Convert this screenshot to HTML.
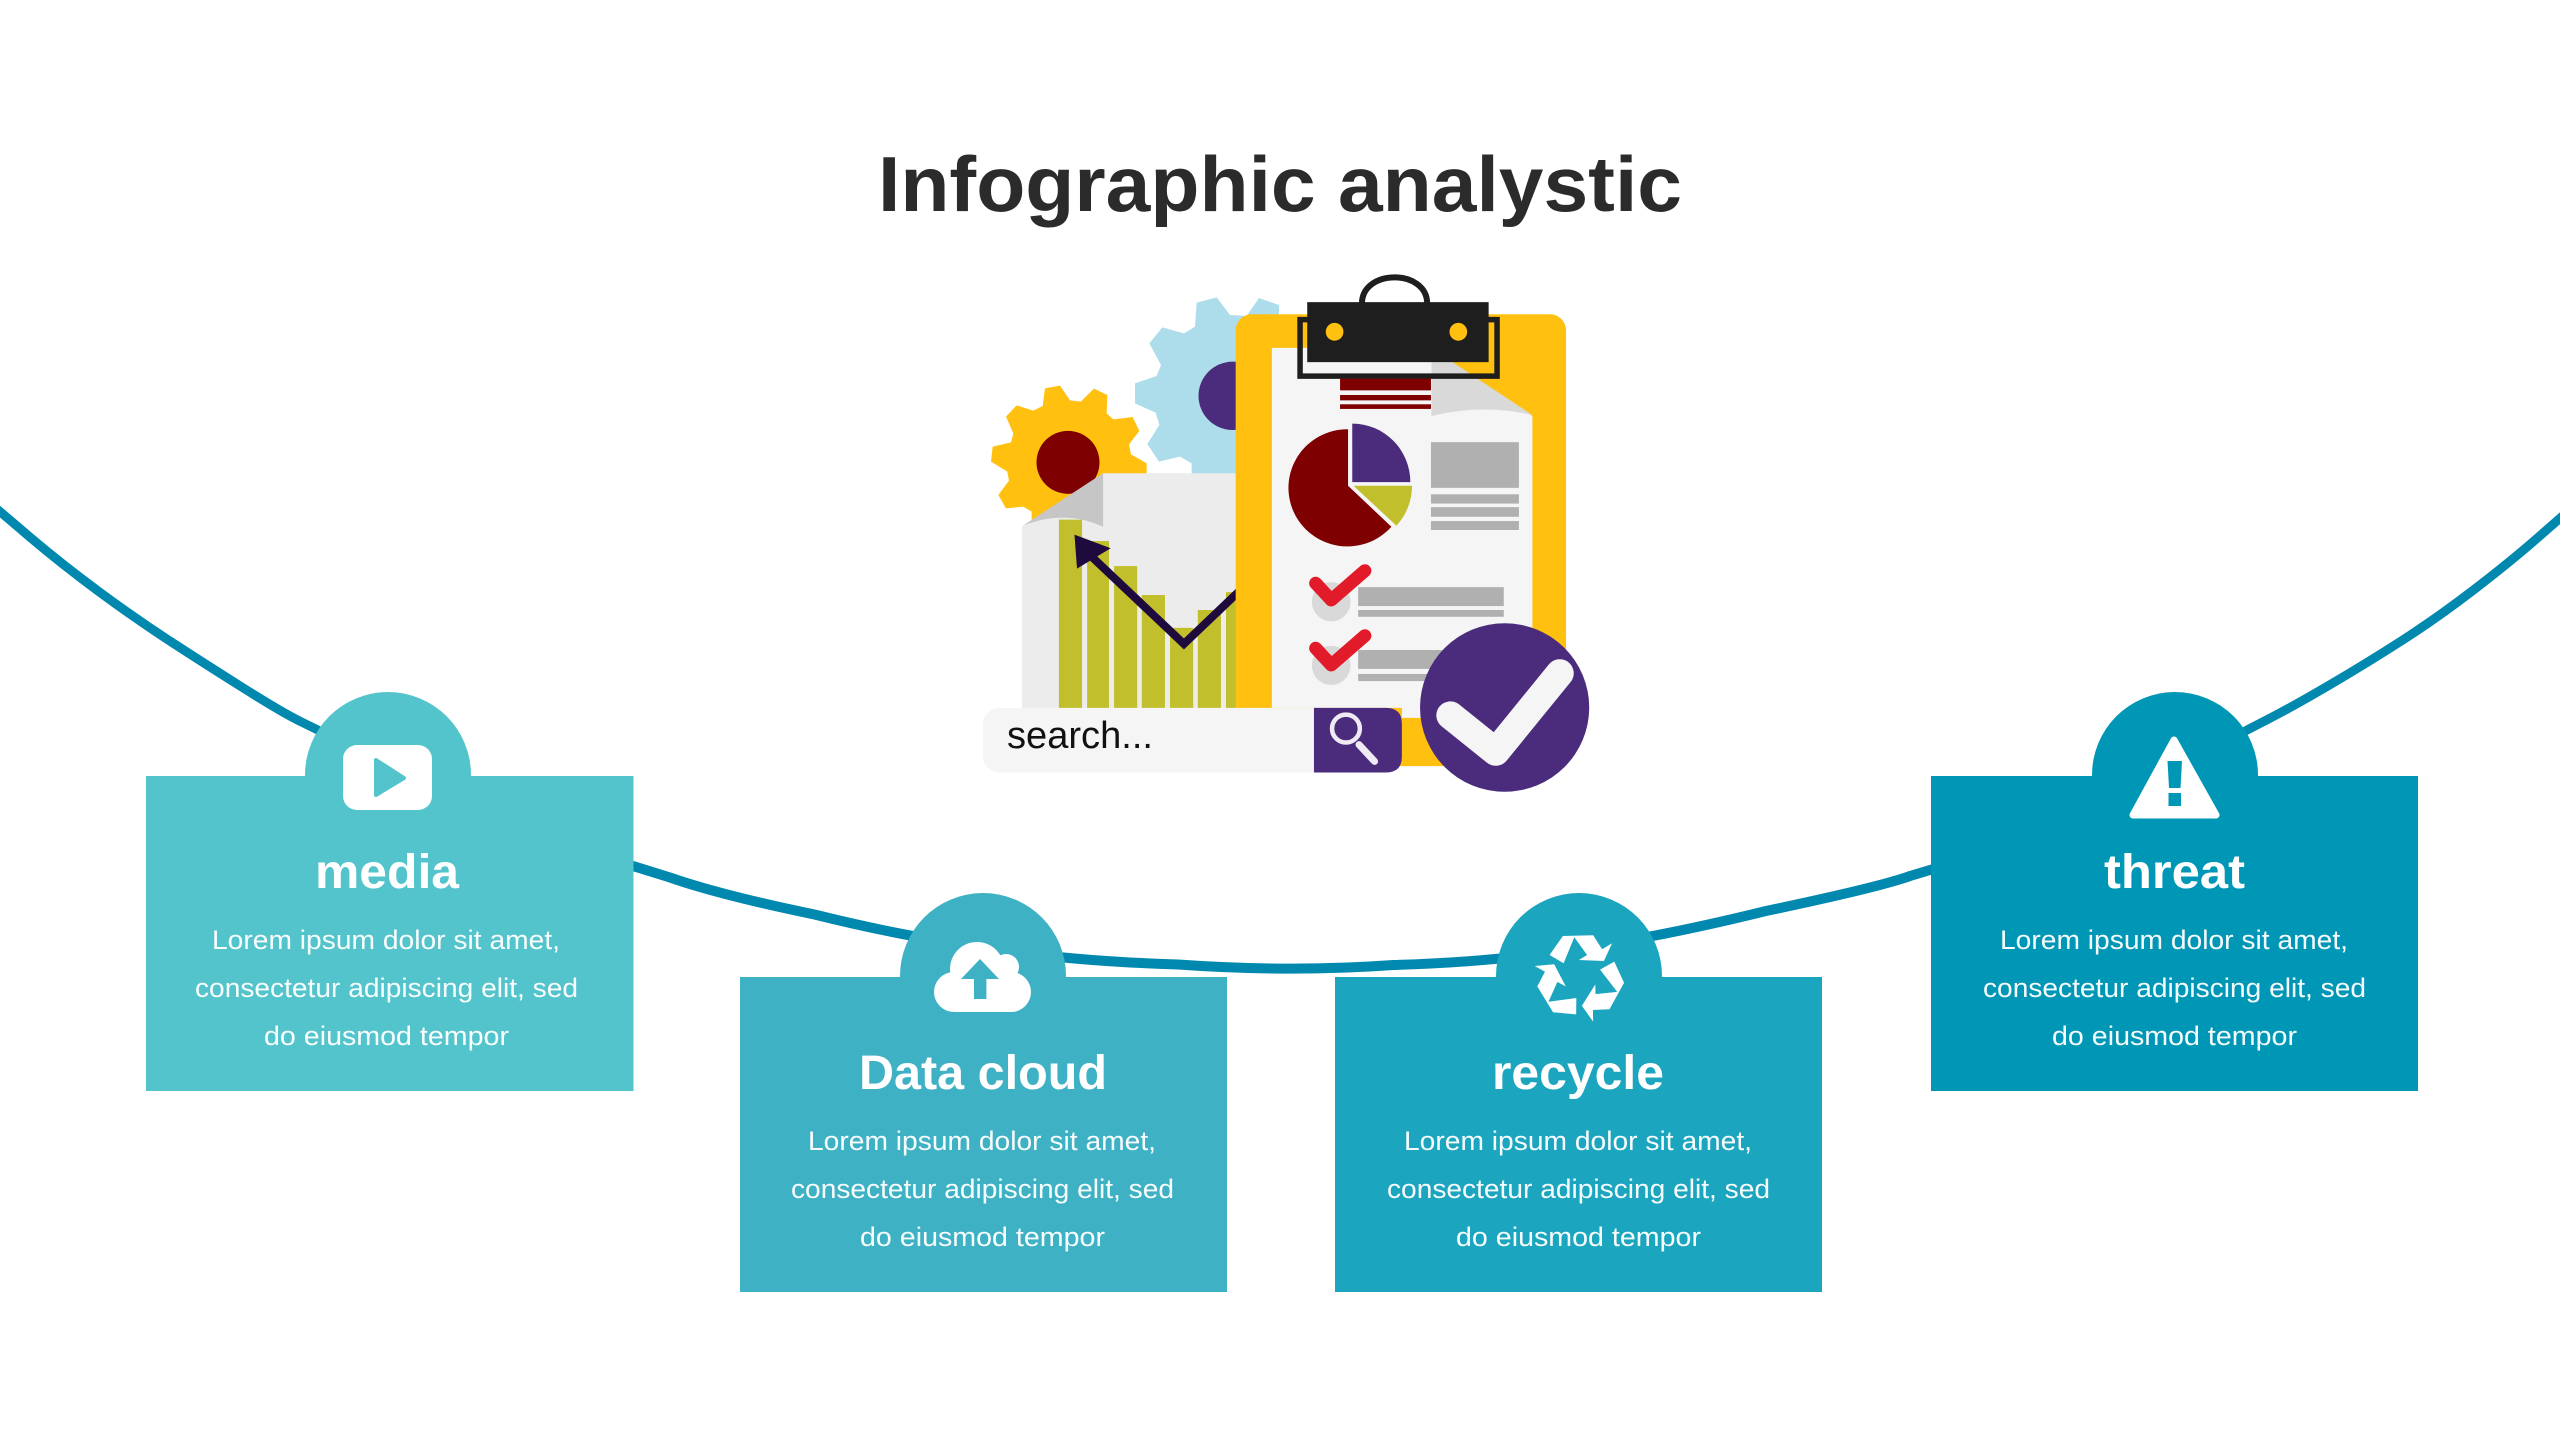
<!DOCTYPE html>
<html>
<head>
<meta charset="utf-8">
<title>Infographic analystic</title>
<style>
html,body{margin:0;padding:0;background:#fff;width:2560px;height:1440px;overflow:hidden}
svg{display:block}
text{font-family:"Liberation Sans",sans-serif}
.h{font-weight:700;font-size:48px;fill:#fff;text-anchor:middle}
.b{font-size:27px;fill:#fff;text-anchor:middle;fill-opacity:.96}
</style>
</head>
<body>
<svg width="2560" height="1440" viewBox="0 0 2560 1440" xmlns="http://www.w3.org/2000/svg">
<defs>
<polygon id="ra" points="-30.4,-22 -17.1,-41 13.2,-41.7 22.1,-27.7 32.1,-33.7 23.9,-16 -1.1,-17 7.1,-22 -5.7,-39.7 -16.4,-13.7"/>
</defs>
<rect width="2560" height="1440" fill="#fff"/>

<!-- curve -->
<g fill="none" stroke="#0088AF" stroke-linejoin="round">
<path stroke-width="9" d="M-6,506.5 L30.9,537.9 Q61.7,564 98.4,591.2 Q135,618.3 170.9,641.7 Q206.7,665 244.9,689 Q283,713 301.5,722 Q320,731 360,751 L400,771"/>
<path stroke-width="10" d="M620,862 L670,877.5 Q720,895 814.5,914.5 Q909,938 987.5,947.5 Q1066,961 1178,964.5 Q1290,972.5 1393.5,965 Q1497,962 1574.5,948.5 Q1652,939 1766,911 Q1880,887 1910,876 L1940,867"/>
<path stroke-width="9" d="M2170,770 L2206.5,751 Q2243,732 2267.5,719.5 Q2292,707 2329.5,685 Q2367,663 2402,640.5 Q2437,618 2473.5,590 Q2510,562 2538,537.5 L2566,513"/>
</g>

<!-- title -->
<text x="1280" y="211" text-anchor="middle" font-size="78" font-weight="700" fill="#2B2B2B" textLength="804" lengthAdjust="spacingAndGlyphs">Infographic analystic</text>

<!-- gears -->
<g transform="translate(980,290) scale(0.33333)">
<polygon fill="#ADDDEA" points="650,38 710,22 750,75 800,78 837,24 897,45 897,100 900,560 635,560 635,520 600,500 537,515 502,462 538,405 527,368 465,340 465,280 530,258 543,225 508,160 547,112 612,130 645,110"/>
<circle cx="758" cy="317.5" r="102.5" fill="#4B2C7C"/>
<polygon fill="#FFC00F" points="195,295 240,287 270,331 302,335 342,296 382,315 380,370 400,388 458,381 478,423 447,463 453,493 500,520 500,560 400,620 155,720 155,665 130,650 78,655 55,615 87,572 82,545 33,515 38,470 93,457 100,430 78,380 110,346 160,362 188,348"/>
<circle cx="264" cy="517" r="94.5" fill="#7F0000"/>
</g>

<!-- illustration, coordinates scaled from crop -->
<g transform="translate(960,250) scale(0.42088,0.35714)">
<path d="M340,625 L740,625 L740,1290 L147,1290 L147,775 Z" fill="#ECECEC"/>
<path d="M340,625 L149,772 Q250,725 340,775 Z" fill="#C6C6C6"/>
<g fill="#C2BF2D">
<rect x="235" y="755" width="55" height="530"/>
<rect x="302" y="815" width="52" height="470"/>
<rect x="366" y="885" width="55" height="400"/>
<rect x="432" y="966" width="55" height="320"/>
<rect x="499" y="1058" width="55" height="230"/>
<rect x="565" y="1008" width="55" height="280"/>
<rect x="632" y="958" width="58" height="330"/>
</g>
<polyline points="305,850 532,1103 670,948" fill="none" stroke="#1E0A3C" stroke-width="8" vector-effect="non-scaling-stroke"/>
<polygon points="272,797 358,835 278,892" fill="#1E0A3C"/>

<!-- clipboard -->
<rect x="655" y="180" width="785" height="1265" rx="38" ry="45" fill="#FFC00F"/>
<path d="M741,274 L1050,274 L1170,314 L1360,465 L1360,1310 L1050,1310 L1050,1282 L741,1282 Z" fill="#F5F5F5"/>
<path d="M1120,314 L1170,314 L1360,462 Q1240,430 1120,465 Z" fill="#D9D9D9"/>
<rect x="815" y="274" width="305" height="72" fill="#F5F5F5"/>

<!-- clip -->
<path d="M955,150 C955,52 1110,52 1110,150" fill="none" stroke="#1E1E1E" stroke-width="6" vector-effect="non-scaling-stroke"/>
<rect x="808" y="195" width="468" height="158" fill="none" stroke="#1E1E1E" stroke-width="5.5" vector-effect="non-scaling-stroke"/>
<rect x="825" y="146" width="431" height="168" fill="#1E1E1E"/>
<ellipse cx="890" cy="229" rx="21" ry="25" fill="#FFC00F"/>
<ellipse cx="1184" cy="229" rx="21" ry="25" fill="#FFC00F"/>
<rect x="903" y="360" width="216" height="33" fill="#7F0000"/>
<rect x="903" y="406" width="216" height="15" fill="#7F0000"/>
<rect x="903" y="432" width="216" height="13" fill="#7F0000"/>

<!-- pie -->
<path d="M922,660 L922,502 A140,164 0 1,0 1025,775 Z" fill="#7F0000"/>
<path d="M932,650 L932,486 A138,164 0 0,1 1070,650 Z" fill="#4B2C7C"/>
<path d="M935,660 L1074,660 A140,165 0 0,1 1037,772 Z" fill="#C2BF2D"/>

<g fill="#B0B0B0">
<rect x="1119" y="538" width="209" height="128"/>
<rect x="1119" y="684" width="209" height="26"/>
<rect x="1119" y="720" width="209" height="27"/>
<rect x="1119" y="759" width="209" height="25"/>
<rect x="946" y="944" width="346" height="53"/>
<rect x="946" y="1008" width="346" height="19"/>
<rect x="946" y="1120" width="220" height="53"/>
<rect x="946" y="1187" width="220" height="20"/>
</g>
<ellipse cx="882" cy="985" rx="46" ry="55" fill="#D9D9D9"/>
<ellipse cx="882" cy="1163" rx="46" ry="55" fill="#D9D9D9"/>
<polyline points="845,933 882,980 962,898" fill="none" stroke="#E21B2B" stroke-width="13" stroke-linecap="round" stroke-linejoin="round" vector-effect="non-scaling-stroke"/>
<polyline points="845,1115 882,1162 962,1080" fill="none" stroke="#E21B2B" stroke-width="13" stroke-linecap="round" stroke-linejoin="round" vector-effect="non-scaling-stroke"/>

<!-- search -->
<rect x="55" y="1282" width="995" height="181" rx="38" ry="45" fill="#F5F5F5"/>
<path d="M841,1282 L1012,1282 Q1050,1282 1050,1327 L1050,1418 Q1050,1463 1012,1463 L841,1463 Z" fill="#4B2C7C"/>
<ellipse cx="917" cy="1340" rx="33" ry="39" fill="none" stroke="#F0EAF5" stroke-width="4.5" vector-effect="non-scaling-stroke"/>
<line x1="948" y1="1385" x2="985" y2="1432" stroke="#F0EAF5" stroke-width="7" stroke-linecap="round" vector-effect="non-scaling-stroke"/>

<!-- big check -->
<ellipse cx="1294" cy="1281" rx="201" ry="236" fill="#4B2C7C"/>
<polyline points="1165,1303 1273,1405 1425,1185" fill="none" stroke="#F5F5F5" stroke-width="28" stroke-linecap="round" stroke-linejoin="round" vector-effect="non-scaling-stroke"/>
</g>
<text x="1007" y="748" font-size="38" fill="#111" textLength="146" lengthAdjust="spacingAndGlyphs">search...</text>

<!-- media card -->
<g fill="#53C4CC">
<circle cx="388" cy="775" r="83"/>
<rect x="146" y="776" width="487.5" height="315"/>
</g>
<rect x="343" y="745" width="89" height="65" rx="14" ry="14" fill="#fff"/>
<polygon points="376,760 404,778 376,795" fill="#53C4CC" stroke="#53C4CC" stroke-width="4" stroke-linejoin="round"/>
<text class="h" x="387" y="888" textLength="144" lengthAdjust="spacingAndGlyphs">media</text>
<text class="b" x="386" y="949" textLength="348" lengthAdjust="spacingAndGlyphs">Lorem ipsum dolor sit amet,</text>
<text class="b" x="386.5" y="997" textLength="383" lengthAdjust="spacingAndGlyphs">consectetur adipiscing elit, sed</text>
<text class="b" x="386.5" y="1045" textLength="245" lengthAdjust="spacingAndGlyphs">do eiusmod tempor</text>

<!-- data cloud card -->
<g fill="#3FB1C4">
<circle cx="983" cy="976" r="83"/>
<rect x="740" y="977" width="487" height="315"/>
</g>
<g fill="#fff">
<circle cx="977" cy="969" r="27"/>
<circle cx="1006" cy="967" r="13"/>
<circle cx="954" cy="992" r="20"/>
<circle cx="1011" cy="992" r="20"/>
<rect x="954" y="975" width="57" height="37"/>
<rect x="975" y="965" width="30" height="25"/>
</g>
<polygon points="980,959 999,979 986.4,979 986.4,999 974,999 974,979 961,979" fill="#3FB1C4"/>
<text class="h" x="983" y="1089" textLength="248" lengthAdjust="spacingAndGlyphs">Data cloud</text>
<text class="b" x="982" y="1150" textLength="348" lengthAdjust="spacingAndGlyphs">Lorem ipsum dolor sit amet,</text>
<text class="b" x="982.5" y="1198" textLength="383" lengthAdjust="spacingAndGlyphs">consectetur adipiscing elit, sed</text>
<text class="b" x="982.5" y="1246" textLength="245" lengthAdjust="spacingAndGlyphs">do eiusmod tempor</text>

<!-- recycle card -->
<g fill="#1CA5BE">
<circle cx="1579" cy="976" r="83"/>
<rect x="1335" y="977" width="487" height="315"/>
</g>
<g transform="translate(1580,977)" fill="#fff">
<use href="#ra"/><use href="#ra" transform="rotate(120)"/><use href="#ra" transform="rotate(240)"/>
</g>
<text class="h" x="1578" y="1089" textLength="172" lengthAdjust="spacingAndGlyphs">recycle</text>
<text class="b" x="1578" y="1150" textLength="348" lengthAdjust="spacingAndGlyphs">Lorem ipsum dolor sit amet,</text>
<text class="b" x="1578.5" y="1198" textLength="383" lengthAdjust="spacingAndGlyphs">consectetur adipiscing elit, sed</text>
<text class="b" x="1578.5" y="1246" textLength="245" lengthAdjust="spacingAndGlyphs">do eiusmod tempor</text>

<!-- threat card -->
<g fill="#0097B6">
<circle cx="2175" cy="775" r="83"/>
<rect x="1931" y="776" width="487" height="315"/>
</g>
<polygon points="2174,740 2216,815 2133,815" fill="#fff" stroke="#fff" stroke-width="7" stroke-linejoin="round"/>
<polygon points="2167.5,761 2182,761 2180.5,788 2169,788" fill="#0097B6"/>
<rect x="2168.5" y="793" width="12.5" height="13" fill="#0097B6"/>
<text class="h" x="2174.5" y="888" textLength="141" lengthAdjust="spacingAndGlyphs">threat</text>
<text class="b" x="2174" y="949" textLength="348" lengthAdjust="spacingAndGlyphs">Lorem ipsum dolor sit amet,</text>
<text class="b" x="2174.5" y="997" textLength="383" lengthAdjust="spacingAndGlyphs">consectetur adipiscing elit, sed</text>
<text class="b" x="2174.5" y="1045" textLength="245" lengthAdjust="spacingAndGlyphs">do eiusmod tempor</text>
</svg>
</body>
</html>
